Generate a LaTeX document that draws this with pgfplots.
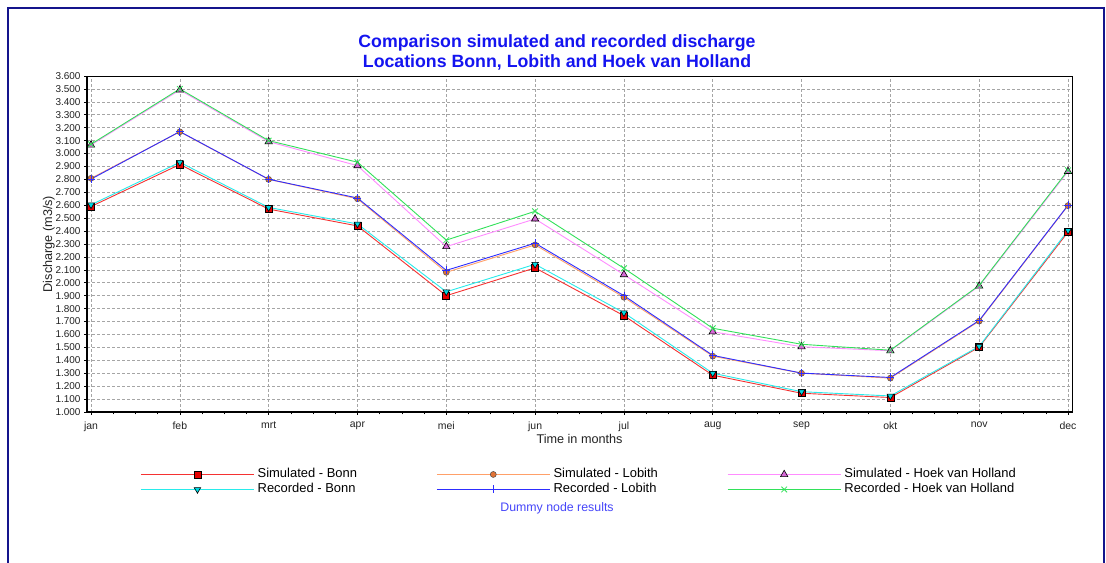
\documentclass[border=0pt]{standalone}
\usepackage{fontspec}
\setmainfont{Liberation Sans}
\usepackage{pgfplots}
\pgfplotsset{compat=1.18}
\definecolor{framec}{RGB}{20,20,140}
\definecolor{titlec}{RGB}{20,20,240}
\definecolor{dummyc}{RGB}{70,70,250}
\definecolor{lsimbonn}{RGB}{245,50,50}
\definecolor{fsimbonn}{RGB}{230,0,0}
\definecolor{lrecbonn}{RGB}{40,235,235}
\definecolor{frecbonn}{RGB}{0,215,225}
\definecolor{lsimlob}{RGB}{255,160,105}
\definecolor{fsimlob}{RGB}{225,115,55}
\definecolor{lreclob}{RGB}{45,45,255}
\definecolor{lsimhoek}{RGB}{255,140,255}
\definecolor{fsimhoek}{RGB}{215,105,215}
\definecolor{lrechoek}{RGB}{50,225,90}
\definecolor{gridc}{RGB}{165,165,165}
\definecolor{txtc}{RGB}{35,35,35}
\begin{document}
\begin{tikzpicture}[x=1bp,y=1bp]
\clip (0,0) rectangle (1106,563);
\fill[white] (0,0) rectangle (1106,563);
\draw[framec, line width=2bp] (8,-20) -- (8,555) -- (1104,555) -- (1104,-20);
\node[anchor=base, font=\bfseries\fontsize{17.8}{20}\selectfont, text=titlec] at (557,515) {Comparison simulated and recorded discharge};
\node[anchor=base, font=\bfseries\fontsize{17.8}{20}\selectfont, text=titlec] at (557,495) {Locations Bonn, Lobith and Hoek van Holland};
\node[font=\fontsize{12.4}{14}\selectfont, text=dummyc] at (557,55) {Dummy node results};
\begin{axis}[
  at={(87bp,151bp)}, anchor=south west,
  scale only axis, width=985bp, height=336bp,
  xmin=-0.045, xmax=11.045, ymin=1000, ymax=3600,
  xtick={0,...,11},
  xticklabels={jan,feb,mrt,apr,mei,jun,jul,aug,sep,okt,nov,dec},
  ytick={1000,1100,...,3600},
  yticklabels={1.000,1.100,1.200,1.300,1.400,1.500,1.600,1.700,1.800,1.900,2.000,2.100,2.200,2.300,2.400,2.500,2.600,2.700,2.800,2.900,3.000,3.100,3.200,3.300,3.400,3.500,3.600},
  minor x tick num=3,
  tick align=outside, xtick pos=bottom, ytick pos=left,
  major tick length=3bp, minor tick length=2.5bp,
  grid=major,
  major grid style={gridc, dash pattern=on 3bp off 2bp, line width=0.6bp},
  tick style={black, line width=0.6bp},
  axis line style={black, line width=0.8bp},
  xticklabel style={font=\fontsize{10.5}{11}\selectfont, text=txtc, yshift=-3bp},
  yticklabel style={font=\fontsize{10}{11}\selectfont, text=txtc},
  xlabel={Time in months},
  xlabel style={font=\fontsize{12.7}{14}\selectfont, text=txtc, at={(axis description cs:0.5,0)}, anchor=center, yshift=-27bp},
  ylabel={Discharge (m3/s)},
  ylabel style={font=\fontsize{12.7}{14}\selectfont, text=txtc, at={(axis description cs:-0.0386,0.5)}, anchor=center},
  clip=false,
  legend columns=3,
  legend cell align=left,
  legend style={draw=none, fill=none, inner sep=0pt,
    at={(axis description cs:0.0538,-0.1660)}, anchor=north west,
    font=\fontsize{13}{14}\selectfont,
    nodes={inner ysep=0.5bp, inner xsep=3bp, text height=9.5bp, text depth=2.5bp},
    /tikz/column 2/.style={column sep=76bp},
    /tikz/column 4/.style={column sep=66bp},
    row sep=2bp},
  legend image code/.code={%
    \draw[#1, mark=none, line width=1.5bp] (0bp,0bp) -- (113bp,0bp);
    \draw[#1, only marks, mark repeat=2, mark phase=2] plot coordinates {(0bp,0bp) (56.5bp,0bp) (113bp,0bp)};},
  after end axis/.code={\draw[black, line width=1.8bp] (rel axis cs:0,1) -- (rel axis cs:0,0) -- (rel axis cs:1,0);},
]
\addplot[color=lsimbonn, line width=0.9bp, mark=square*, mark size=3.5bp, mark options={fill=fsimbonn, draw=black, line width=0.6bp}]
  coordinates {(0,2590) (1,2915) (2,2570) (3,2440) (4,1900) (5,2115) (6,1745) (7,1285) (8,1145) (9,1112) (10,1502) (11,2393)};
\addlegendentry{Simulated - Bonn}
\addplot[color=lsimlob, line width=0.9bp, mark=*, mark size=3bp, mark options={fill=fsimlob, draw=black!70, line width=0.5bp}]
  coordinates {(0,2808) (1,3168) (2,2800) (3,2650) (4,2081) (5,2293) (6,1888) (7,1432) (8,1300) (9,1262) (10,1703) (11,2597)};
\addlegendentry{Simulated - Lobith}
\addplot[color=lsimhoek, line width=0.9bp, mark=triangle*, mark size=4.2bp, mark options={fill=fsimhoek, draw=black, line width=0.6bp}]
  coordinates {(0,3066) (1,3492) (2,3092) (3,2906) (4,2280) (5,2494) (6,2063) (7,1621) (8,1505) (9,1474) (10,1975) (11,2862)};
\addlegendentry{Simulated - Hoek van Holland}
\addplot[color=lrecbonn, line width=0.9bp, mark=triangle*, mark size=3.8bp, mark options={rotate=180, fill=frecbonn, draw=black, line width=0.6bp}]
  coordinates {(0,2603) (1,2932) (2,2583) (3,2455) (4,1930) (5,2143) (6,1768) (7,1300) (8,1157) (9,1124) (10,1508) (11,2405)};
\addlegendentry{Recorded - Bonn}
\addplot[color=lreclob, line width=0.9bp, mark=+, mark size=4bp, mark options={line width=0.8bp}]
  coordinates {(0,2802) (1,3170) (2,2801) (3,2656) (4,2096) (5,2306) (6,1900) (7,1438) (8,1301) (9,1267) (10,1708) (11,2600)};
\addlegendentry{Recorded - Lobith}
\addplot[color=lrechoek, line width=0.9bp, mark=x, mark size=4bp, mark options={line width=0.8bp}]
  coordinates {(0,3072) (1,3500) (2,3100) (3,2933) (4,2330) (5,2553) (6,2112) (7,1648) (8,1524) (9,1478) (10,1980) (11,2870)};
\addlegendentry{Recorded - Hoek van Holland}
\end{axis}
\end{tikzpicture}
\end{document}
